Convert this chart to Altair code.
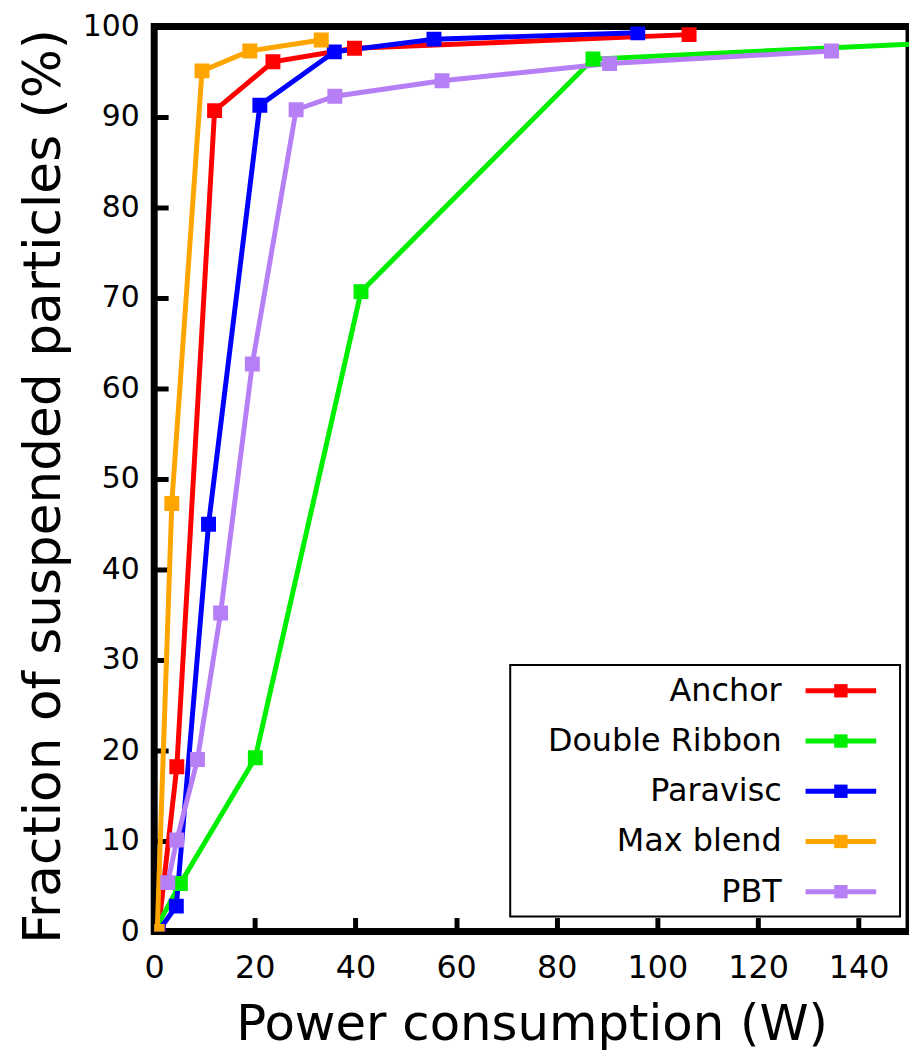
import altair as alt
import pandas as pd

series_names = ["Anchor", "Double Ribbon", "Paravisc", "Max blend", "PBT"]
series_colors = ["#ff0000", "#00ee00", "#0000ff", "#ffa500", "#b77ff5"]

anchor_x = [0.8, 4.5, 12.0, 23.6, 39.8, 106.3]
anchor_y = [0.0, 18.2, 90.7, 96.1, 97.6, 99.1]

ribbon_x = [0.0, 5.2, 20.1, 41.1, 87.2, 175.0]
ribbon_y = [0.0, 5.3, 19.2, 70.7, 96.4, 98.7]

paravisc_x = [0.8, 4.4, 10.8, 21.0, 35.8, 55.6, 96.1]
paravisc_y = [0.0, 2.8, 45.0, 91.3, 97.2, 98.6, 99.3]

maxblend_x = [0.6, 3.5, 9.5, 19.0, 33.2]
maxblend_y = [0.0, 47.3, 95.1, 97.3, 98.5]

pbt_x = [2.7, 4.5, 8.6, 13.2, 19.5, 28.2, 35.9, 57.2, 90.5, 134.6]
pbt_y = [5.4, 10.1, 19.0, 35.2, 62.7, 90.8, 92.3, 94.0, 95.9, 97.3]

x_ticks = [0, 20, 40, 60, 80, 100, 120, 140]
y_ticks = [0, 10, 20, 30, 40, 50, 60, 70, 80, 90, 100]

rows = []
for name, xs, ys in zip(series_names,
                        [anchor_x, ribbon_x, paravisc_x, maxblend_x, pbt_x],
                        [anchor_y, ribbon_y, paravisc_y, maxblend_y, pbt_y]):
    for i, (xv, yv) in enumerate(zip(xs, ys)):
        rows.append({"series": name, "order": i, "power": xv, "fraction": yv})
df = pd.DataFrame(rows)

FONT = "DejaVu Sans"
W, H = 759, 910

color = alt.Color("series:N", scale=alt.Scale(domain=series_names, range=series_colors), legend=None)

xenc = alt.X("power:Q",
             scale=alt.Scale(domain=[0, 150], nice=False, zero=False),
             axis=alt.Axis(values=x_ticks, title="Power consumption (W)", domain=False, grid=False,
                           tickSize=14, tickWidth=5, tickColor="black", offset=-14,
                           labelFlush=False,
                           labelFont=FONT, labelFontSize=32, labelColor="black", labelPadding=21,
                           titleFont=FONT, titleFontSize=50, titleFontWeight="normal",
                           titleColor="black", titlePadding=17))
yenc = alt.Y("fraction:Q",
             scale=alt.Scale(domain=[0, 100], nice=False),
             axis=alt.Axis(values=y_ticks, title="Fraction of suspended particles (%)", domain=False, grid=False,
                           tickSize=14, tickWidth=5, tickColor="black", offset=-14,
                           labelFlush=False,
                           labelFont=FONT, labelFontSize=30, labelColor="black", labelPadding=15,
                           titleFont=FONT, titleFontSize=52, titleFontWeight="normal",
                           titleColor="black", titlePadding=12, titleY=462))

lines = alt.Chart(df).mark_line(strokeWidth=5, clip=True).encode(
    x=xenc, y=yenc, color=color, detail="series:N", order="order:Q")
points = alt.Chart(df).mark_point(shape="square", filled=True, size=225, opacity=1, clip=True).encode(
    x=xenc, y=yenc, color=color)
main = alt.layer(lines, points)

leg_df = pd.DataFrame({"series": series_names})
leg_y = alt.Y("series:N", sort=series_names,
              scale=alt.Scale(type="point", range=[668, 870], padding=0), axis=None)

box = alt.Chart(pd.DataFrame({"k": [0]})).mark_rect(fill="white", stroke="black", strokeWidth=2).encode(
    x=alt.value(358), x2=alt.value(750), y=alt.value(642), y2=alt.value(895))
leg_rules = alt.Chart(leg_df).mark_rule(strokeWidth=5).encode(
    x=alt.value(655), x2=alt.value(726), y=leg_y, color=color)
leg_sq = alt.Chart(leg_df).mark_point(shape="square", filled=True, size=180, opacity=1).encode(
    x=alt.value(690.5), y=leg_y, color=color)
leg_text = alt.Chart(leg_df).mark_text(align="right", baseline="middle", font=FONT, fontSize=32,
                                       color="black").encode(
    x=alt.value(631), y=leg_y, text="series:N")
legend = alt.layer(box, leg_rules, leg_sq, leg_text)

chart = alt.layer(main, legend).resolve_scale(y="independent").properties(
    width=W, height=H,
    autosize=alt.AutoSizeParams(type="none"),
    padding={"left": 147, "top": 15.7, "right": 0, "bottom": 121},
    background="white",
).configure_view(stroke="black", strokeWidth=7, fill="white")

chart.save("out.html", embed_options={"renderer": "svg", "actions": False})
